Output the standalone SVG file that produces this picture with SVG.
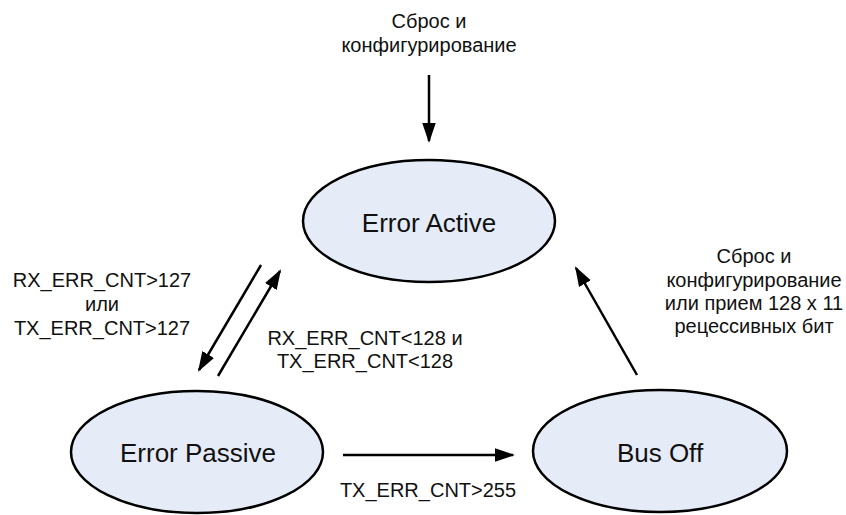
<svg xmlns="http://www.w3.org/2000/svg" width="846" height="515" viewBox="0 0 846 515">
<defs>
<style>
.node{fill:#e6ecf7;stroke:#000;stroke-width:2.5}
.nt{font-family:"Liberation Sans",Arial,sans-serif;font-size:26px;fill:#111;text-anchor:middle}
.lbl{font-family:"Liberation Sans",Arial,sans-serif;font-size:20px;fill:#111;text-anchor:middle}
.edge{stroke:#000;stroke-width:2.5;fill:none;marker-end:url(#ah)}
</style>
<marker id="ah" viewBox="0 0 10 10" refX="9" refY="5" markerWidth="8" markerHeight="6" markerUnits="strokeWidth" orient="auto" preserveAspectRatio="none">
<path d="M0,0.5 L10,5 L0,9.5 z" fill="#000"/>
</marker>
</defs>
<rect width="846" height="515" fill="#fff"/>
<g id="n-active"><ellipse class="node" cx="429" cy="221" rx="126" ry="61"/><text class="nt" x="429" y="232">Error Active</text></g>
<g id="n-passive"><ellipse class="node" cx="197" cy="452" rx="126" ry="61"/><text class="nt" x="198" y="462">Error Passive</text></g>
<g id="n-busoff"><ellipse class="node" cx="660" cy="451" rx="127" ry="61"/><text class="nt" x="660" y="462">Bus Off</text></g>
<g id="connectors">
<line class="edge" x1="429" y1="75" x2="429" y2="141"/>
<line class="edge" x1="261" y1="265" x2="199" y2="370"/>
<line class="edge" x1="218" y1="376" x2="280" y2="271"/>
<line class="edge" x1="637" y1="375" x2="576" y2="268"/>
<line class="edge" x1="343" y1="455" x2="513" y2="455"/>
</g>
<g id="labels">
<text class="lbl" x="429" y="28">Сброс и</text>
<text class="lbl" x="429" y="52">конфигурирование</text>
<text class="lbl" x="102" y="287">RX_ERR_CNT&gt;127</text>
<text class="lbl" x="102" y="311">или</text>
<text class="lbl" x="102" y="335">TX_ERR_CNT&gt;127</text>
<text class="lbl" x="365" y="345">RX_ERR_CNT&lt;128 и</text>
<text class="lbl" x="365" y="368">TX_ERR_CNT&lt;128</text>
<text class="lbl" x="754" y="263">Сброс и</text>
<text class="lbl" x="754" y="287">конфигурирование</text>
<text class="lbl" x="754" y="310">или прием 128 x 11</text>
<text class="lbl" x="754" y="333">рецессивных бит</text>
<text class="lbl" x="428" y="497">TX_ERR_CNT&gt;255</text>
</g>
</svg>
